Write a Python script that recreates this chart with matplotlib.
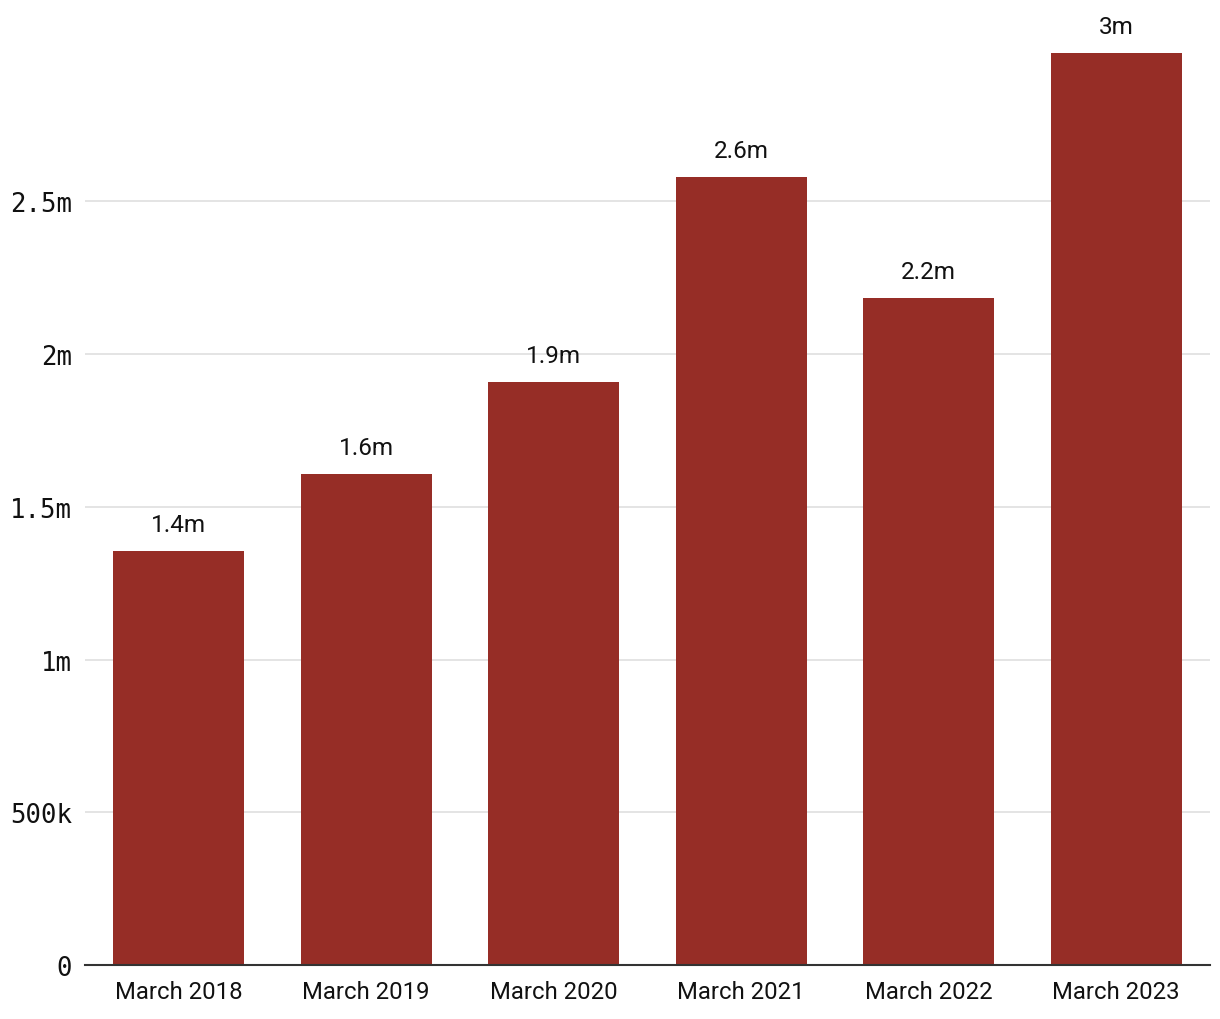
import matplotlib.pyplot as plt
import numpy as np
from matplotlib.ticker import FuncFormatter

categories = ["March 2018", "March 2019", "March 2020", "March 2021", "March 2022", "March 2023"]
values = [1.355e6, 1.607e6, 1.908e6, 2.579e6, 2.183e6, 2.985e6]
bar_labels = ["1.4m", "1.6m", "1.9m", "2.6m", "2.2m", "3m"]
yticks = [0, 5e5, 1e6, 1.5e6, 2e6, 2.5e6]


def fmt(v, pos):
    if v == 0:
        return "0"
    if v < 1e6:
        return f"{v / 1e3:g}k"
    return f"{v / 1e6:g}m"


fig = plt.figure(figsize=(12.2, 10.2), dpi=100)
ax = fig.add_axes([85 / 1220, 54 / 1020, 1125 / 1220, (966 - 19) / 1020])

x = np.arange(len(categories))
bars = ax.bar(x, values, width=0.7, color="#962d26", zorder=3)

for xi, v, lab in zip(x, values, bar_labels):
    ax.annotate(lab, (xi, v), xytext=(0, 11), textcoords="offset points",
                ha="center", va="bottom", fontsize=17.5, family="Roboto", color="#111")

ax.set_xlim(-0.5, len(categories) - 0.5)
ax.set_ylim(0, 3.1e6)
ax.set_yticks(yticks)
ax.yaxis.set_major_formatter(FuncFormatter(fmt))
ax.set_xticks(x)
ax.set_xticklabels(categories, fontsize=17.2, family="Roboto", color="#111")
for t in ax.get_yticklabels():
    t.set_family("DejaVu Sans Mono")
    t.set_fontsize(18.5)
    t.set_color("#111")

ax.grid(axis="y", color="#e2e2e2", linewidth=1.3, zorder=0)
for s in ["top", "right", "left"]:
    ax.spines[s].set_visible(False)
ax.spines["bottom"].set_color("#333333")
ax.spines["bottom"].set_linewidth(1.5)
ax.spines["bottom"].set_zorder(4)
ax.tick_params(axis="both", length=0)
ax.tick_params(axis="x", pad=11)
ax.tick_params(axis="y", pad=9.5)

fig.savefig("out.png", dpi=100)
